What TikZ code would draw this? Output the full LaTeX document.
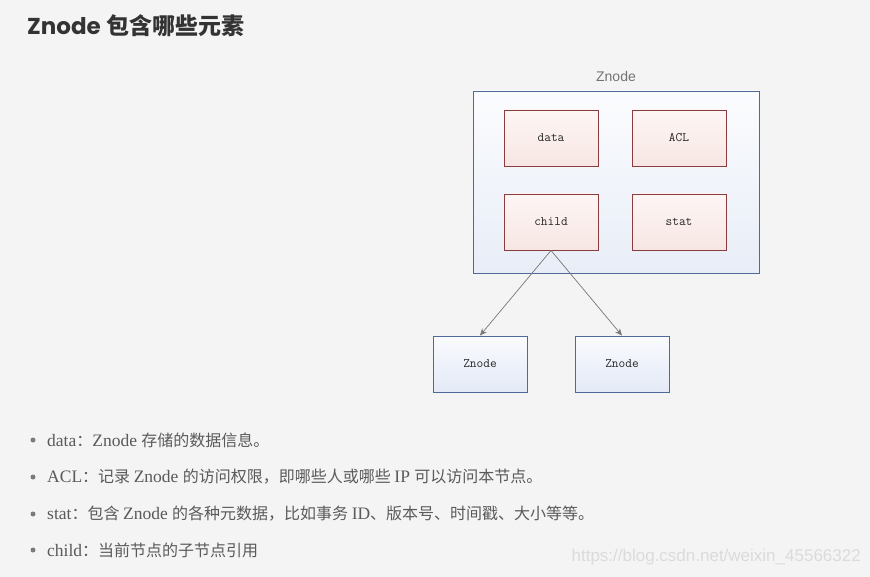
\documentclass[tikz,border=0pt]{standalone}
\usepackage{fontspec}
\usetikzlibrary{arrows.meta}
\setmainfont{Liberation Serif}
\newfontfamily\cjk{Noto Sans CJK SC}
\newfontfamily\pop{Poppins}
\newfontfamily\sansf{Liberation Sans}
\definecolor{bg}{HTML}{F4F4F4}
\definecolor{txt}{HTML}{5A5A5A}
\definecolor{title}{HTML}{333333}
\definecolor{blueline}{HTML}{4F6A9A}
\definecolor{redline}{HTML}{8C3C3C}
\definecolor{conn}{HTML}{777777}
\definecolor{outertop}{HTML}{FBFCFE}
\definecolor{outerbot}{HTML}{E8EDF7}
\definecolor{pinktop}{HTML}{FDF6F5}
\definecolor{pinkbot}{HTML}{F7E6E3}
\definecolor{bluetop}{HTML}{FAFBFE}
\definecolor{bluebot}{HTML}{E3E9F6}
\newcommand{\cj}[1]{{\cjk\fontsize{16}{19}\selectfont #1}}
\tikzset{
  outerbox/.style={draw=blueline, line width=0.9pt, top color=outertop, bottom color=outerbot, minimum width=286pt, minimum height=182pt, inner sep=0pt},
  elembox/.style={draw=redline, line width=0.9pt, top color=pinktop, bottom color=pinkbot, minimum width=94pt, minimum height=56pt, inner sep=0pt, font=\ttfamily\fontsize{13}{15}\selectfont, text=black!85},
  childbox/.style={draw=blueline, line width=0.9pt, top color=bluetop, bottom color=bluebot, minimum width=94pt, minimum height=56pt, inner sep=0pt, font=\ttfamily\fontsize{13}{15}\selectfont, text=black!85},
  conn/.style={draw=conn, line width=0.7pt, -{Stealth[length=7pt,width=6pt]}},
  bullettext/.style={anchor=west, inner sep=0pt, text=txt, font=\fontsize{17.5}{20}\selectfont},
  bulletdot/.style={circle, fill=txt!80, inner sep=0pt, minimum size=5pt},
}
\begin{document}
\begin{tikzpicture}[x=1pt, y=-1pt]
\fill[bg] (0,0) rectangle (870,577);
\useasboundingbox (0,0) rectangle (870,577);

% title
\node[anchor=west, inner sep=0pt, text=title] (title) at (27,26)
  {\fontsize{23}{27}\selectfont\bfseries{\pop Znode} {\cjk 包含哪些元素}};

% outer Znode
\node[outerbox] (outer) at (616,182) {};
\node[text=black!55, inner sep=0pt, font=\sansf\fontsize{14}{16}\selectfont] (outerlbl) at (616,76) {Znode};

\node[elembox] (data) at (551,138) {data};
\node[elembox] (acl) at (679,138) {ACL};
\node[elembox] (child) at (551,222) {child};
\node[elembox] (stat) at (679,222) {stat};

\node[childbox] (z1) at (480,364) {Znode};
\node[childbox] (z2) at (622,364) {Znode};

\draw[conn] (child.south) -- (z1.north);
\draw[conn] (child.south) -- (z2.north);

% bullets
\node[bulletdot] (b1) at (33,440) {};
\node[bullettext] (t1) at (47,440) {data\cj{：}Znode \cj{存储的数据信息。}};
\node[bulletdot] (b2) at (33,477) {};
\node[bullettext] (t2) at (47,477) {ACL\cj{：记录 }Znode \cj{的访问权限，即哪些人或哪些 }IP \cj{可以访问本节点。}};
\node[bulletdot] (b3) at (33,514) {};
\node[bullettext] (t3) at (47,514) {stat\cj{：包含 }Znode \cj{的各种元数据，比如事务 }ID\cj{、版本号、时间戳、大小等等。}};
\node[bulletdot] (b4) at (33,550) {};
\node[bullettext] (t4) at (47,550) {child\cj{：当前节点的子节点引用}};

% watermark
\node[anchor=east, inner sep=0pt, text=black!14, font=\sansf\fontsize{17}{20}\selectfont] (wm) at (861,557) {https://blog.csdn.net/weixin\_45566322};
\end{tikzpicture}
\end{document}
